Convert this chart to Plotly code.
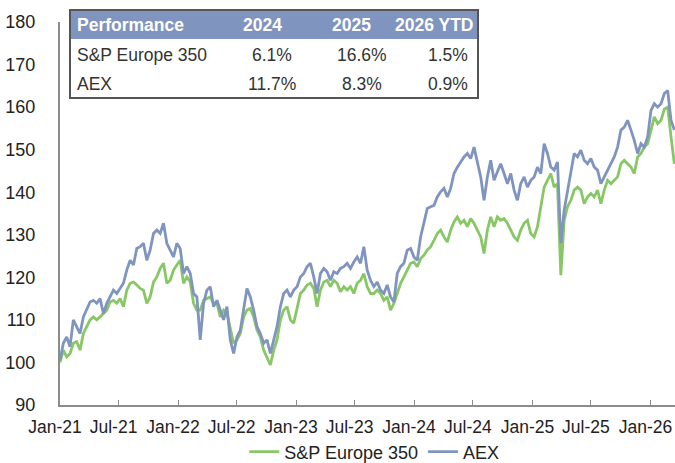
import plotly.graph_objects as go
import pandas as pd

COLORS = {
    "spe": "#88c765",
    "aex": "#7f94be",
    "axis": "#8c8c8c",
    "text": "#222222",
    "border": "#555555",
}
FONT = "Liberation Sans, Arial, sans-serif"

# index levels, rebased to 100 (~10-day steps)
aex = [
    100.5, 104.5, 106.0, 103.7, 110.0, 108.4, 106.8, 110.7, 112.3, 114.2,
    114.6, 113.9, 115.0, 111.5, 113.9, 115.4, 117.0, 116.2, 117.4, 118.6,
    121.7, 124.0, 122.9, 126.8, 127.2, 128.0, 124.0, 126.4, 130.3, 131.1,
    130.3, 132.7, 128.0, 126.4, 124.8, 128.0, 126.8, 120.9, 122.5, 120.9,
    116.2, 115.4, 105.3, 113.9, 117.0, 117.8, 113.1, 114.6, 112.3, 110.0,
    113.1, 105.3, 102.1, 106.0, 107.6, 113.1, 117.4, 115.4, 112.3, 108.4,
    106.8, 104.5, 105.3, 102.1, 105.3, 108.4, 113.1, 116.2, 117.0, 115.4,
    117.0, 117.8, 120.1, 120.9, 122.5, 123.3, 120.1, 116.2, 120.9, 122.1,
    121.3, 119.3, 121.3, 120.9, 122.1, 122.5, 123.3, 122.1, 123.6, 124.8,
    123.3, 127.2, 121.7, 119.3, 117.8, 118.9, 117.0, 116.2, 118.2, 115.4,
    114.2, 120.9, 122.5, 123.3, 126.4, 126.8, 124.8, 124.0, 129.5, 132.7,
    136.2, 136.6, 136.9, 138.9, 140.1, 140.9, 138.9, 140.9, 144.4, 145.9,
    147.1, 148.3, 149.1, 147.9, 150.6, 146.7, 143.6, 138.1, 143.6, 147.5,
    142.8, 144.8, 146.7, 144.4, 142.0, 144.4, 140.5, 138.1, 142.0, 143.6,
    141.2, 142.8, 143.6, 145.9, 144.4, 151.4, 149.1, 145.9, 145.2, 147.1,
    128.0, 135.8, 140.5, 144.4, 149.1, 148.3, 149.9, 147.5, 146.7, 147.9,
    145.9, 145.2, 142.0, 143.6, 145.2, 146.7, 148.3, 150.6, 154.6, 155.3,
    156.9, 154.6, 152.2, 149.1, 151.4, 150.6, 153.0, 159.2, 160.8, 160.0,
    160.8, 163.2, 163.9, 156.9, 154.6,
]
spe350 = [
    100.0, 102.9, 101.3, 102.1, 104.5, 104.9, 102.9, 106.8, 108.4, 110.0,
    110.7, 110.0, 110.7, 111.5, 112.3, 114.2, 114.6, 113.9, 115.0, 113.1,
    117.0, 118.6, 118.9, 118.2, 117.4, 117.0, 113.9, 115.4, 118.9, 120.1,
    122.1, 123.3, 118.6, 119.3, 121.7, 122.9, 124.0, 118.6, 120.1, 118.9,
    113.9, 112.3, 112.3, 114.6, 115.0, 115.4, 113.9, 113.9, 110.7, 112.3,
    111.5, 107.6, 104.5, 105.3, 106.8, 110.7, 112.3, 112.7, 110.7, 107.6,
    106.0, 102.9, 101.3, 99.4, 102.9, 105.3, 110.0, 112.3, 113.1, 110.0,
    109.2, 113.1, 116.2, 117.0, 118.2, 118.6, 117.4, 113.1, 117.0, 118.9,
    119.3, 117.8, 119.3, 118.6, 116.6, 117.8, 117.0, 117.8, 116.2, 118.6,
    119.3, 120.9, 117.8, 116.2, 116.2, 117.0, 116.2, 114.6, 115.4, 112.3,
    113.9, 116.2, 118.6, 120.1, 121.7, 123.3, 123.6, 122.5, 124.4, 125.2,
    126.4, 127.2, 128.7, 130.3, 131.1, 129.5, 128.3, 131.1, 133.0, 134.2,
    132.7, 133.4, 131.9, 133.8, 132.7, 131.1, 129.5, 125.6, 131.1, 134.2,
    131.9, 134.2, 133.4, 133.8, 132.7, 131.1, 129.5, 128.7, 131.1, 132.7,
    133.4, 130.3, 129.5, 131.9, 136.6, 141.2, 142.8, 144.4, 141.2, 142.0,
    120.5, 133.4, 136.6, 138.1, 140.5, 141.2, 140.5, 137.3, 138.9, 139.7,
    138.9, 140.5, 137.3, 140.5, 142.8, 142.0, 142.8, 143.6, 146.7, 147.5,
    146.7, 145.9, 144.4, 148.3, 149.1, 150.6, 151.4, 154.6, 157.7, 156.1,
    156.9, 159.5, 160.0, 153.0, 146.7,
]
dates = pd.date_range("2021-01-01", "2026-03-16", periods=len(aex))

table_header = ["Performance", "2024", "2025", "2026 YTD"]
table_rows = [
    ["S&P Europe 350", "6.1%", "16.6%", "1.5%"],
    ["AEX", "11.7%", "8.3%", "0.9%"],
]

W, H = 675, 463
PLOT_L, PLOT_R, PLOT_T, PLOT_B = 60, 675, 22, 405   # plot area in pixels
L, R, T, B = PLOT_L, W - PLOT_R, PLOT_T, H - PLOT_B


def px_x(x):
    return (x - PLOT_L) / (PLOT_R - PLOT_L)


def px_y(y):
    return (PLOT_B - y) / (PLOT_B - PLOT_T)


fig = go.Figure()
fig.add_trace(go.Scatter(
    x=dates, y=spe350, mode="lines", name="S&P Europe 350",
    line=dict(color=COLORS["spe"], width=2.8),
))
fig.add_trace(go.Scatter(
    x=dates, y=aex, mode="lines", name="AEX",
    line=dict(color=COLORS["aex"], width=2.8),
))

# performance table in the top-left corner
shapes = [
    dict(type="rect", xref="paper", yref="paper",
         x0=px_x(70), x1=px_x(478), y0=px_y(98), y1=px_y(10),
         line=dict(color=COLORS["border"], width=2), fillcolor="white", layer="above"),
    dict(type="rect", xref="paper", yref="paper",
         x0=px_x(71), x1=px_x(477), y0=px_y(39), y1=px_y(11),
         line=dict(width=0), fillcolor=COLORS["aex"], layer="above"),
]
annotations = []
head_x = [(75, "left"), (262, "center"), (351, "center"), (475, "right")]
for (hx, al), txt in zip(head_x, table_header):
    annotations.append(dict(
        x=px_x(hx), y=px_y(25), xref="paper", yref="paper", text=txt,
        showarrow=False, xanchor=al, yanchor="middle",
        font=dict(family=FONT, size=17.5, color="white", weight="bold"),
    ))
cell_x = [(75, "left"), (272, "center"), (362, "center"), (448, "center")]
for row, ry in zip(table_rows, [55, 84]):
    for (cx, al), txt in zip(cell_x, row):
        annotations.append(dict(
            x=px_x(cx), y=px_y(ry), xref="paper", yref="paper", text=txt,
            showarrow=False, xanchor=al, yanchor="middle",
            font=dict(family=FONT, size=17.5, color="#333333"),
        ))

fig.update_layout(
    width=W, height=H,
    paper_bgcolor="white", plot_bgcolor="white",
    margin=dict(l=L, r=R, t=T, b=B, pad=0, autoexpand=False),
    font=dict(family=FONT, size=18, color=COLORS["text"]),
    showlegend=True,
    legend=dict(orientation="h", x=0.511, xanchor="center", y=px_y(452), yanchor="middle",
                font=dict(size=18, color=COLORS["text"]), bgcolor="rgba(0,0,0,0)"),
    xaxis=dict(
        range=["2021-01-01", "2026-03-18"], tickformat="%b-%y",
        tick0="2021-01-01", dtick="M6", automargin=False,
        showgrid=False, zeroline=False, showline=True,
        linecolor=COLORS["axis"], linewidth=2,
        ticks="inside", ticklen=5, tickwidth=1, tickcolor=COLORS["axis"],
        ticklabelstandoff=5, ticklabelshift=-5, ticklabeloverflow="allow",
        tickfont=dict(size=17.5),
    ),
    yaxis=dict(
        range=[90, 180], dtick=10, showgrid=False, zeroline=False,
        showline=True, linecolor=COLORS["axis"], linewidth=2, automargin=False,
        ticks="", ticklabelstandoff=19,
    ),
    shapes=shapes,
    annotations=annotations,
)

# drop the page's default body margin so the chart fills the window
fig.write_html("out.html", config={"displayModeBar": False},
               post_script="document.body.style.margin = '0px';")
